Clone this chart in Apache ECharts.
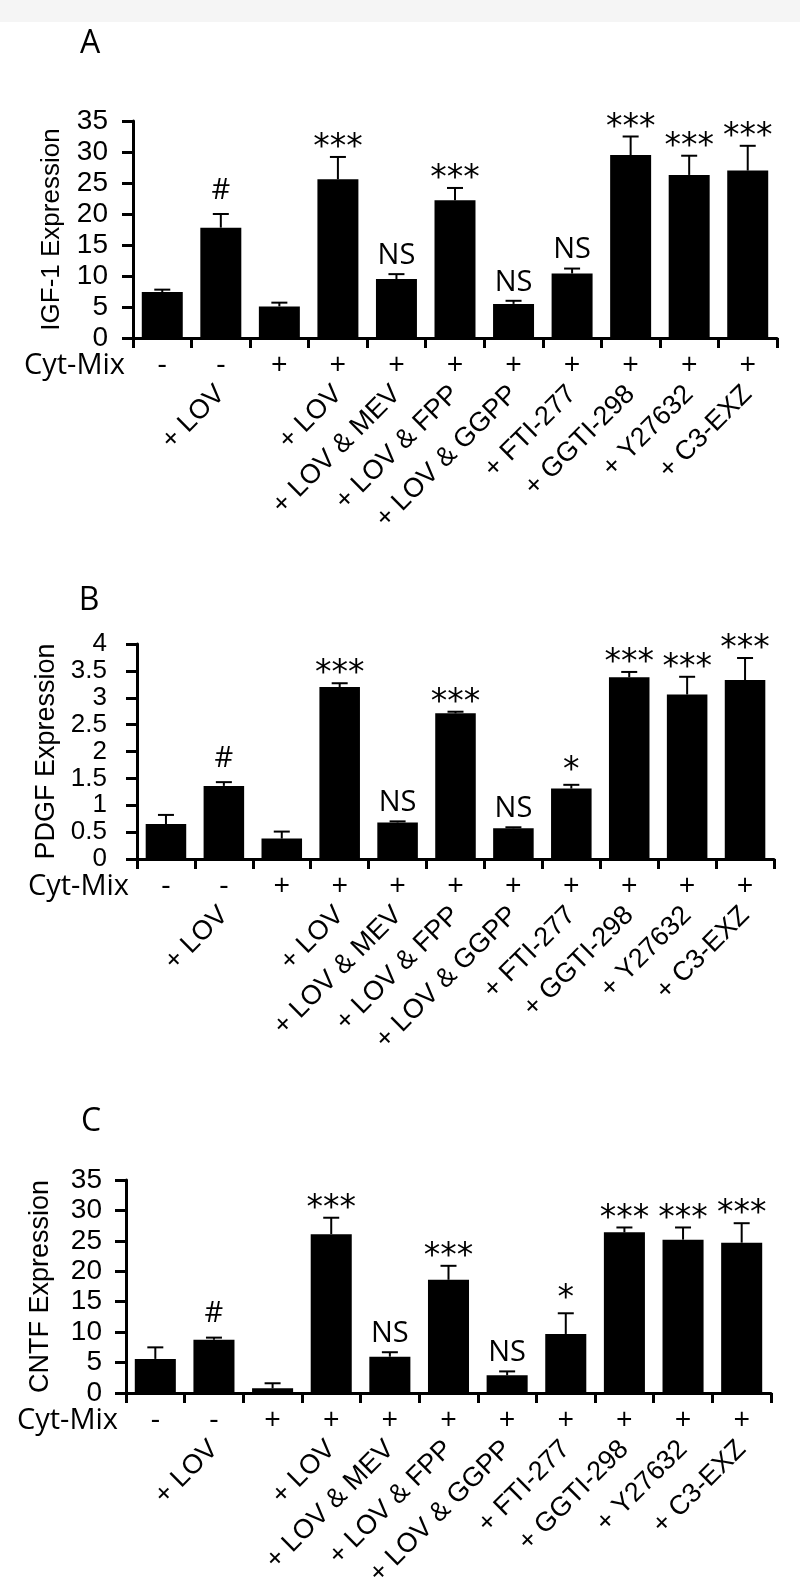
<!DOCTYPE html>
<html><head><meta charset="utf-8">
<script src="https://cdn.jsdelivr.net/npm/echarts@6/dist/echarts.min.js"></script>
<style>html,body{margin:0;padding:0;background:#fff}#c{width:800px;height:1591px}</style>
</head><body><div id="c"></div>
<script>
// ---------- data ----------
const cytMix = ['-', '-', '+', '+', '+', '+', '+', '+', '+', '+', '+'];
const treatments = ['', '+ LOV', '', '+ LOV', '+ LOV & MEV', '+ LOV & FPP', '+ LOV & GGPP', '+ FTI-277', '+ GGTI-298', '+ Y27632', '+ C3-EXZ'];

const igf1Mean   = [7.4, 17.8, 5.1, 25.6, 9.5, 22.2, 5.5, 10.4, 29.5, 26.3, 27.0];
const igf1ErrTop = [7.8, 20.0, 5.7, 29.2, 10.3, 24.2, 6.0, 11.2, 32.5, 29.4, 31.0];
const igf1Sig    = ['', '#', '', '***', 'NS', '***', 'NS', 'NS', '***', '***', '***'];

const pdgfMean   = [0.65, 1.36, 0.38, 3.20, 0.68, 2.71, 0.57, 1.31, 3.38, 3.06, 3.33];
const pdgfErrTop = [0.82, 1.43, 0.51, 3.27, 0.70, 2.74, 0.59, 1.38, 3.48, 3.39, 3.74];
const pdgfSig    = ['', '#', '', '***', 'NS', '***', 'NS', '*', '***', '***', '***'];

const cntfMean   = [5.6, 8.75, 0.76, 26.1, 5.96, 18.6, 2.9, 9.7, 26.4, 25.2, 24.7];
const cntfErrTop = [7.5, 9.1, 1.6, 28.8, 6.7, 20.9, 3.55, 13.1, 27.2, 27.2, 27.9];
const cntfSig    = ['', '#', '', '***', 'NS', '***', 'NS', '*', '***', '***', '***'];

const panelLetters = ['A', 'B', 'C'];
const yTitles = ['IGF-1 Expression', 'PDGF Expression', 'CNTF Expression'];
const yMax = [35, 4, 35];
const yStep = [5, 0.5, 5];

// ---------- layout ----------
const grids = [
  {left: 133, top: 121, width: 644, height: 217},
  {left: 137, top: 644, width: 637, height: 215},
  {left: 126, top: 1180, width: 645, height: 213}
];
const labelMargins = [25, 30, 24];
const labelSizes = [28, 26, 28];
const nameGaps = [68, 74, 72];
const nameSizes = [26, 27, 27];
const letterPos = [[90, 44], [89, 601], [91, 1122]];

const sans = 'Liberation Sans, Arial, sans-serif';
const humanist = 'Open Sans, Noto Sans, sans-serif';
const starFont = '33px DejaVu Sans, sans-serif';

const panels = [
  {mean: igf1Mean, err: igf1ErrTop, sig: igf1Sig},
  {mean: pdgfMean, err: pdgfErrTop, sig: pdgfSig},
  {mean: cntfMean, err: cntfErrTop, sig: cntfSig}
];

function sigGap(s) {
  if (s === '***') return -8;
  if (s === '*') return -3;
  if (s === '#') return 9;
  return 4;
}

function makeRender(sigArr) {
  return function (params, api) {
    const i = api.value(0);
    const base = api.coord([i, api.value(1)]);
    const top = api.coord([i, api.value(2)]);
    const cap = 8;
    const children = [
      {type: 'line', shape: {x1: top[0], y1: base[1], x2: top[0], y2: top[1]}, style: {stroke: '#000', lineWidth: 2}},
      {type: 'line', shape: {x1: top[0] - cap, y1: top[1], x2: top[0] + cap, y2: top[1]}, style: {stroke: '#000', lineWidth: 2}}
    ];
    const s = sigArr[i];
    if (s) {
      const isStar = s.charAt(0) === '*';
      children.push({
        type: 'text',
        style: {
          text: s, x: top[0], y: top[1] - sigGap(s),
          fill: '#000', font: isStar ? starFont : '29px ' + humanist,
          align: 'center', verticalAlign: 'bottom'
        }
      });
    }
    return {type: 'group', children: children};
  };
}

const option = {
  backgroundColor: '#fff',
  animation: false,
  grid: grids.map(g => Object.assign({containLabel: false, outerBoundsMode: 'none'}, g)),
  xAxis: [],
  yAxis: [],
  series: [],
  graphic: []
};

option.graphic.push({type: 'rect', left: 0, top: 0, shape: {width: 800, height: 22}, style: {fill: '#f5f5f5'}, silent: true});

panels.forEach((p, k) => {
  const g = grids[k];
  option.xAxis.push({
    type: 'category', gridIndex: k, data: cytMix,
    axisLine: {show: true, lineStyle: {color: '#000', width: 3}},
    axisTick: {show: true, length: 10, lineStyle: {color: '#000', width: 3}},
    axisLabel: {interval: 0, margin: 28, verticalAlign: 'middle', color: '#000', fontSize: 29, fontFamily: humanist},
    splitLine: {show: false}
  });
  option.xAxis.push({
    type: 'category', gridIndex: k, data: treatments, position: 'bottom',
    axisLine: {show: false}, axisTick: {show: false}, splitLine: {show: false},
    axisLabel: {interval: 0, rotate: 45, margin: 52, color: '#000', fontSize: 27, fontFamily: sans}
  });
  option.yAxis.push({
    type: 'value', gridIndex: k, min: 0, max: yMax[k], interval: yStep[k],
    name: yTitles[k], nameLocation: 'middle', nameRotate: 90, nameGap: nameGaps[k],
    nameTextStyle: {color: '#000', fontSize: nameSizes[k], fontFamily: sans},
    axisLine: {show: true, lineStyle: {color: '#000', width: 3}},
    axisTick: {show: true, length: 11, lineStyle: {color: '#000', width: 3}},
    axisLabel: {margin: labelMargins[k], color: '#000', fontSize: labelSizes[k], lineHeight: 18, fontFamily: sans,
                showMinLabel: true, showMaxLabel: true, hideOverlap: false},
    splitLine: {show: false}
  });
  option.series.push({
    type: 'bar', xAxisIndex: 2 * k, yAxisIndex: k, data: p.mean,
    barWidth: '70%', itemStyle: {color: '#000'}, z: 2
  });
  option.series.push({
    type: 'custom', xAxisIndex: 2 * k, yAxisIndex: k,
    data: p.mean.map((m, i) => [i, m, p.err[i]]),
    encode: {x: 0, y: [1, 2]},
    renderItem: makeRender(p.sig), z: 3, clip: false
  });
  option.graphic.push({
    type: 'text', x: g.left - 8, y: g.top + g.height + 28,
    style: {text: 'Cyt-Mix', fill: '#000', font: '29px ' + humanist, align: 'right', verticalAlign: 'middle'}
  });
  option.graphic.push({
    type: 'text', x: letterPos[k][0], y: letterPos[k][1],
    style: {text: panelLetters[k], fill: '#000', font: '32px ' + humanist, align: 'center', verticalAlign: 'middle'}
  });
});

const chart = echarts.init(document.getElementById('c'), null, {renderer: 'canvas'});
chart.setOption(option);
</script>
</body></html>
